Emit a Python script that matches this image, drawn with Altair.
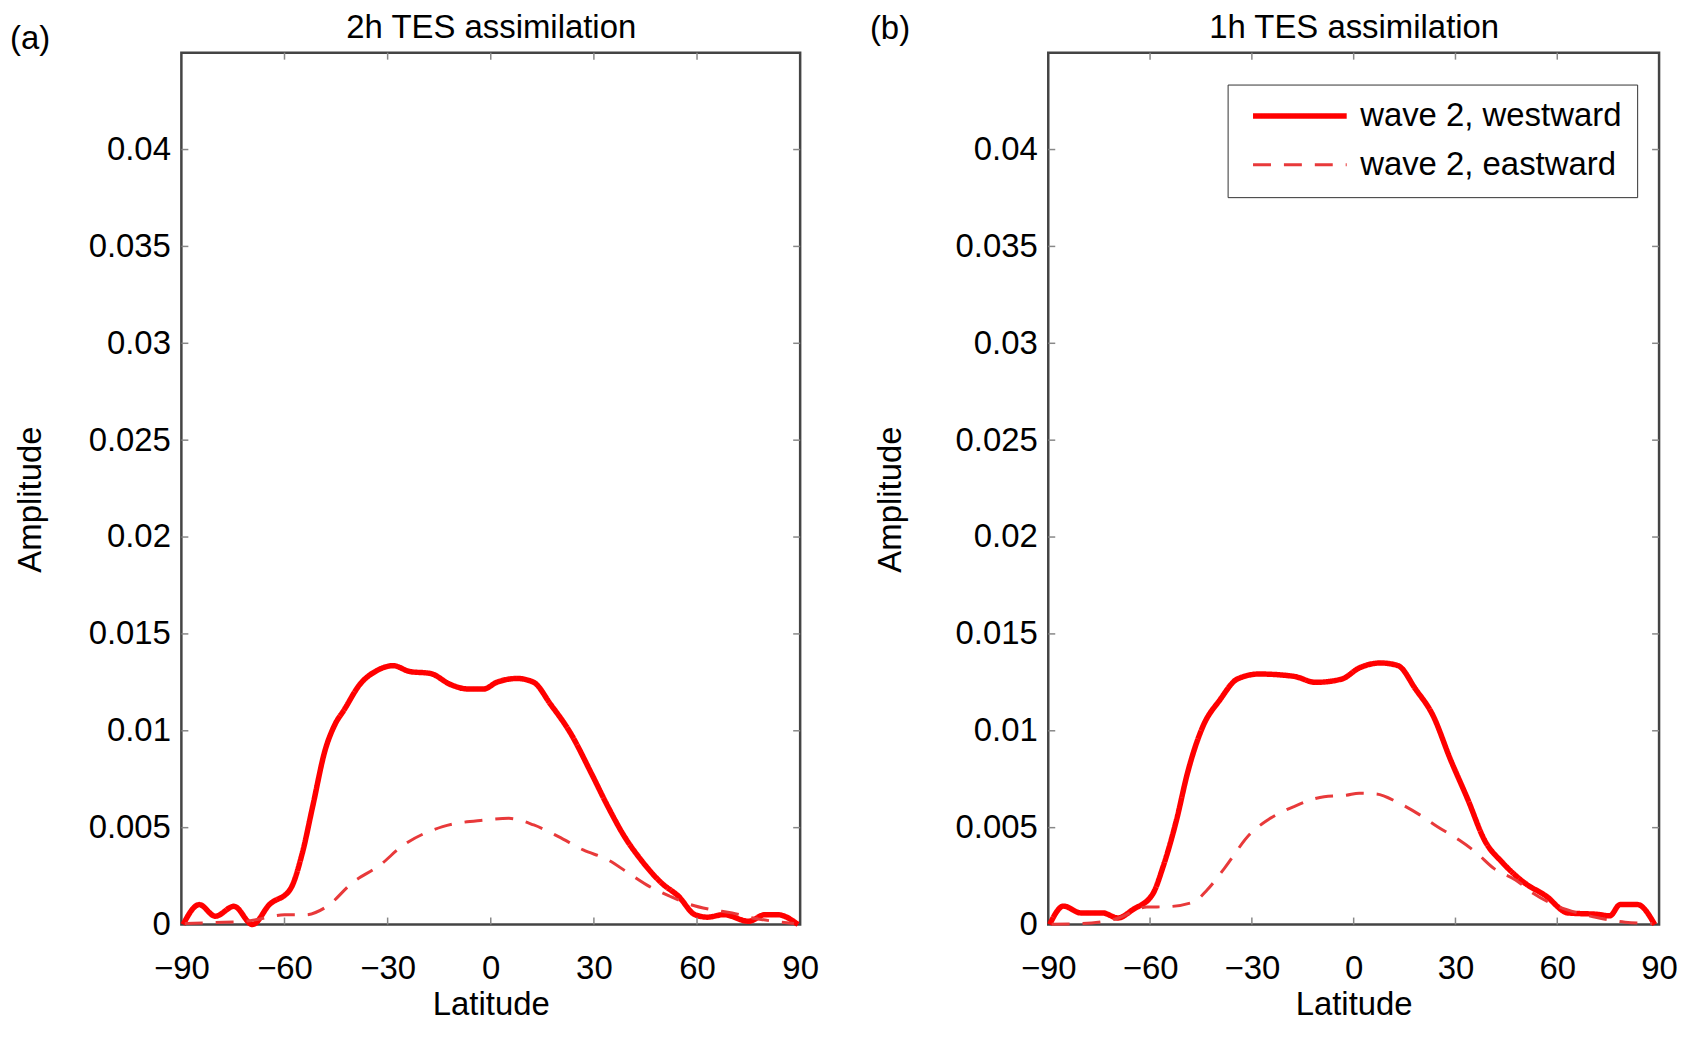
import altair as alt
import pandas as pd

FONT = "Liberation Sans"

panel_labels = ["(a)", "(b)"]
panel_titles = ["2h TES assimilation", "1h TES assimilation"]
series_names = ["wave 2, westward", "wave 2, eastward"]
series_colors = ["#ff0000", "#e8393a"]

x_ticks = [-90, -60, -30, 0, 30, 60, 90]
y_ticks = [0, 0.005, 0.01, 0.015, 0.02, 0.025, 0.03, 0.035, 0.04]

# panel (a): 2h TES assimilation
lat_a_west = [-89.5, -84.8, -80.1, -74.7, -69.3, -64.4, -58.4, -54.8, -51.8, -48.2, -45.2,
              -42.8, -38.0, -33.2, -28.4, -23.6, -17.6, -11.6, -6.8, -2.0, 1.7, 7.7, 12.5,
              17.3, 23.3, 29.3, 34.1, 38.9, 43.7, 49.7, 54.6, 59.4, 63.0, 67.8, 75.0, 79.8,
              83.4, 89.4]
amp_a_west = [0.0, 0.00103, 0.00043, 0.00094, 0.0, 0.00103, 0.0018, 0.0037, 0.0061, 0.00899,
              0.01037, 0.01104, 0.01241, 0.0131, 0.01336, 0.01306, 0.01296, 0.01238, 0.01216,
              0.01216, 0.0125, 0.0127, 0.0125, 0.01139, 0.00985, 0.00779, 0.00608, 0.00454,
              0.00334, 0.00214, 0.00146, 0.00051, 0.00038, 0.00051, 0.00017, 0.00051, 0.00051,
              0.0]
lat_a_east = [-89.0, -80.0, -70.0, -60.0, -54.0, -47.6, -40.4, -32.0, -26.0, -14.0, -2.0, 5.3,
              12.5, 19.7, 26.9, 34.1, 40.1, 46.1, 52.1, 58.1, 64.2, 70.2, 76.2, 82.2, 88.2]
amp_a_east = [0.00005, 0.0001, 0.0002, 0.0005, 0.0005, 0.00094, 0.00214, 0.0031, 0.00402,
              0.00505, 0.00539, 0.00548, 0.00514, 0.00454, 0.00385, 0.00334, 0.00265, 0.00197,
              0.00146, 0.00103, 0.00077, 0.0006, 0.00034, 0.00017, 0.00005]

# panel (b): 1h TES assimilation
lat_b_west = [-89.6, -85.5, -80.4, -74.0, -69.5, -65.0, -59.3, -56.1, -52.2, -49.0, -44.5,
              -39.4, -34.3, -27.9, -17.6, -11.2, -3.5, 1.6, 8.0, 13.1, 18.2, 23.4, 28.5, 33.6,
              38.7, 43.9, 50.3, 56.7, 63.1, 72.1, 75.5, 78.5, 83.6, 88.7]
amp_b_west = [0.0, 0.00095, 0.0006, 0.0006, 0.00034, 0.00078, 0.00155, 0.00302, 0.0054,
              0.0078, 0.0102, 0.0116, 0.01267, 0.01293, 0.01281, 0.0125, 0.01267, 0.01324,
              0.0135, 0.01336, 0.01216, 0.01078, 0.00853, 0.00647, 0.00431, 0.00319, 0.00216,
              0.00147, 0.0006, 0.00052, 0.00045, 0.00103, 0.00103, 0.0]
lat_b_east = [-89.0, -80.0, -70.0, -61.0, -55.0, -47.1, -43.2, -38.1, -30.4, -25.3, -17.6,
              -8.7, -2.2, 1.6, 6.7, 13.1, 19.5, 24.7, 31.1, 36.2, 41.3, 47.7, 53.0, 60.0, 66.0,
              72.0, 80.0, 88.0]
amp_b_east = [0.00002, 0.00005, 0.0003, 0.0009, 0.00092, 0.00117, 0.00178, 0.0029, 0.0047,
              0.0054, 0.00609, 0.0066, 0.00667, 0.00678, 0.00674, 0.00629, 0.00566, 0.00505,
              0.00436, 0.0037, 0.0029, 0.0023, 0.0016, 0.00095, 0.0006, 0.00035, 0.00012,
              0.00005]


def series_frame(lat_w, amp_w, lat_e, amp_e):
    rows = []
    for la, am in zip(lat_w, amp_w):
        rows.append({"lat": la, "amp": am, "series": series_names[0]})
    for la, am in zip(lat_e, amp_e):
        rows.append({"lat": la, "amp": am, "series": series_names[1]})
    return pd.DataFrame(rows)


def panel(df, title, label, W, H, ytitle_x, label_x, label_y, show_legend):
    xscale = alt.Scale(domain=[-90, 90], nice=False, zero=False)
    yscale = alt.Scale(domain=[0, 0.045], nice=False, zero=True)

    if show_legend:
        legend = alt.Legend(
            title=None, orient="none", legendX=180, legendY=32,
            symbolType="M-4.7,0H4.7", symbolSize=400, symbolStrokeWidth=4,
            symbolOffset=41, labelOffset=44, labelFont=FONT, labelFontSize=33,
            labelColor="black", padding=15, rowPadding=15, strokeColor="#333",
            fillColor="white", labelLimit=0,
        )
    else:
        legend = None

    lines = alt.Chart(df).mark_line(strokeJoin="round", strokeCap="butt",
                                    interpolate="monotone").encode(
        x=alt.X("lat:Q", scale=xscale, axis=alt.Axis(
            orient="bottom", values=x_ticks, format="d", title="Latitude",
            labelFontSize=33, titleFontSize=33, titleFontWeight="normal",
            labelPadding=28, tickSize=0, domain=False, grid=False, labelFlush=False,
            labelOverlap=False, titleY=90, titleBaseline="alphabetic")),
        y=alt.Y("amp:Q", scale=yscale, axis=alt.Axis(
            orient="left", values=y_ticks, format="~g", title="Amplitude",
            labelFontSize=33, titleFontSize=33, titleFontWeight="normal", labelPadding=11,
            tickSize=0, domain=False, grid=False, titleX=ytitle_x, titleY=448,
            titleAngle=270, titleBaseline="alphabetic", titleAlign="center",
            labelOverlap=False)),
        color=alt.Color("series:N", scale=alt.Scale(domain=series_names, range=series_colors),
                        legend=legend),
        strokeDash=alt.StrokeDash("series:N", scale=alt.Scale(
            domain=series_names, range=[[1, 0], [18, 13]]), legend=legend),
        strokeWidth=alt.StrokeWidth("series:N", scale=alt.Scale(
            domain=series_names, range=[5.5, 3]), legend=None),
    )

    xt_df = pd.DataFrame({"xt": x_ticks[1:-1]})
    yt_df = pd.DataFrame({"yt": y_ticks[1:]})
    tick_color = "#888888"

    top_ticks = alt.Chart(xt_df).mark_rule(color=tick_color, strokeWidth=1.5).encode(
        x=alt.X("xt:Q", scale=xscale, axis=alt.Axis(
            orient="top", title=title, labels=False, ticks=False, domain=False,
            grid=False, titleY=-15, titleBaseline="alphabetic", titleFontSize=33,
            titleFontWeight="normal", titleAlign="center")),
        y=alt.value(0), y2=alt.value(7),
    )
    bottom_ticks = alt.Chart(xt_df).mark_rule(color=tick_color, strokeWidth=1.5).encode(
        x=alt.X("xt:Q", scale=xscale, axis=None),
        y=alt.value(H - 7), y2=alt.value(H),
    )
    left_ticks = alt.Chart(yt_df).mark_rule(color=tick_color, strokeWidth=1.5).encode(
        y=alt.Y("yt:Q", scale=yscale, axis=None),
        x=alt.value(0), x2=alt.value(7),
    )
    right_ticks = alt.Chart(yt_df).mark_rule(color=tick_color, strokeWidth=1.5).encode(
        y=alt.Y("yt:Q", scale=yscale, axis=None),
        x=alt.value(W - 7), x2=alt.value(W),
    )
    tag = alt.Chart(pd.DataFrame({"label": [label]})).mark_text(
        align="left", baseline="alphabetic", font=FONT, fontSize=33, color="black"
    ).encode(text="label:N", x=alt.value(label_x), y=alt.value(label_y))

    return alt.layer(lines, top_ticks, bottom_ticks, left_ticks, right_ticks, tag).resolve_axis(
        x="independent", y="independent").properties(width=W, height=H)


df_a = series_frame(lat_a_west, amp_a_west, lat_a_east, amp_a_east)
df_b = series_frame(lat_b_west, amp_b_west, lat_b_east, amp_b_east)

left = panel(df_a, panel_titles[0], panel_labels[0], 621, 875, -141, -172, -4, False)
right = panel(df_b, panel_titles[1], panel_labels[1], 613, 875, -148, -179, -14, True)

chart = alt.hconcat(left, right, spacing=48).resolve_scale(
    color="independent", strokeDash="independent", strokeWidth="independent"
).resolve_legend(
    color="independent", strokeDash="independent", strokeWidth="independent"
).properties(
    padding={"left": 0, "top": 0, "right": 0, "bottom": 0}
).configure_view(
    stroke="#444444", strokeWidth=2.5
).configure_axis(
    labelFont=FONT, titleFont=FONT, labelColor="black", titleColor="black"
).configure_text(font=FONT)

chart.save("out.html", embed_options={"renderer": "svg", "actions": False})
